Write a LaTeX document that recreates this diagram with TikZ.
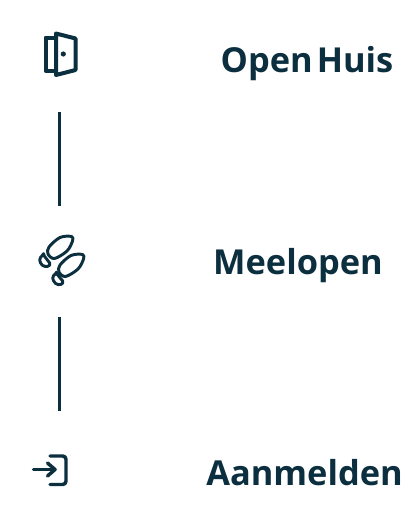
\documentclass[tikz,border=0pt]{standalone}
\usepackage{fontspec}
\setmainfont{Open Sans}
\usetikzlibrary{positioning}
\definecolor{inkblue}{HTML}{0C2F3F}
\tikzset{
  iconbox/.style={minimum width=30pt,minimum height=30pt,inner sep=0pt},
  steplabel/.style={font=\fontsize{25.8}{30}\selectfont\bfseries,text=inkblue,inner sep=0pt,anchor=base},
  stepline/.style={draw=inkblue,line width=2.4pt},
  iconline/.style={draw=inkblue,line width=3pt,line join=round,line cap=round},
  shoeline/.style={iconline,line width=2.2pt}
}
\begin{document}
\begin{tikzpicture}[x=0.75pt,y=-0.75pt]
  \useasboundingbox (0,0) rectangle (405,521);

  \node[iconbox] (door) at (59.5,55) {};
  \node[iconbox] (steps) at (59.5,262) {};
  \node[iconbox] (enter) at (59.5,470) {};

  \node[steplabel] (openhuis) at (307,72) {Open\hspace{3pt}Huis};
  \node[steplabel] (meelopen) at (298,274) {Meelopen};
  \node[steplabel] (aanmelden) at (304.5,485) {Aanmelden};

  \draw[stepline,shorten <=27.75pt,shorten >=27pt] (door) -- (steps);
  \draw[stepline,shorten <=26.25pt,shorten >=29.25pt] (steps) -- (enter);

  % door
  \draw[iconline] (55,37.5) -- (45.5,37.5) -- (45.5,70.5) -- (55,70.5);
  \draw[iconline] (56,33.5) -- (75.5,38.5) -- (75.5,70) -- (56,75) -- cycle;
  \fill[inkblue] (63.3,54) circle (2.6);

  % shoe prints
  \draw[shoeline] plot[smooth cycle,tension=0.55] coordinates {(71.5,236.5) (60,237.5) (49,247) (48,254) (54.5,258.5) (67,251) (72.5,241)};
  \draw[shoeline,rounded corners=1pt] (43.5,255) -- (50.5,264) .. controls (48,267.5) and (42,267) .. (40,261.5) .. controls (39.5,259) and (41,256) .. (43.5,255) -- cycle;
  \draw[shoeline] plot[smooth cycle,tension=0.55] coordinates {(82.5,254.5) (71,255.5) (60,265) (59,272) (65.5,276.5) (78,269) (83.5,259)};
  \draw[shoeline,rounded corners=1pt] (56.5,273.5) -- (63.5,282) .. controls (61,285.5) and (55.5,285.5) .. (53,279.5) .. controls (52.5,277) and (54,274.5) .. (56.5,273.5) -- cycle;

  % enter arrow
  \draw[iconline,line width=2.6pt] (33.5,469.5) -- (55,469.5);
  \draw[iconline,line width=2.6pt] (47.5,463) -- (55,469.5) -- (47.5,476);
  \draw[iconline,line width=2.6pt,rounded corners=2.5pt] (50,456) -- (66,456) -- (66,484.5) -- (50,484.5);
\end{tikzpicture}
\end{document}
